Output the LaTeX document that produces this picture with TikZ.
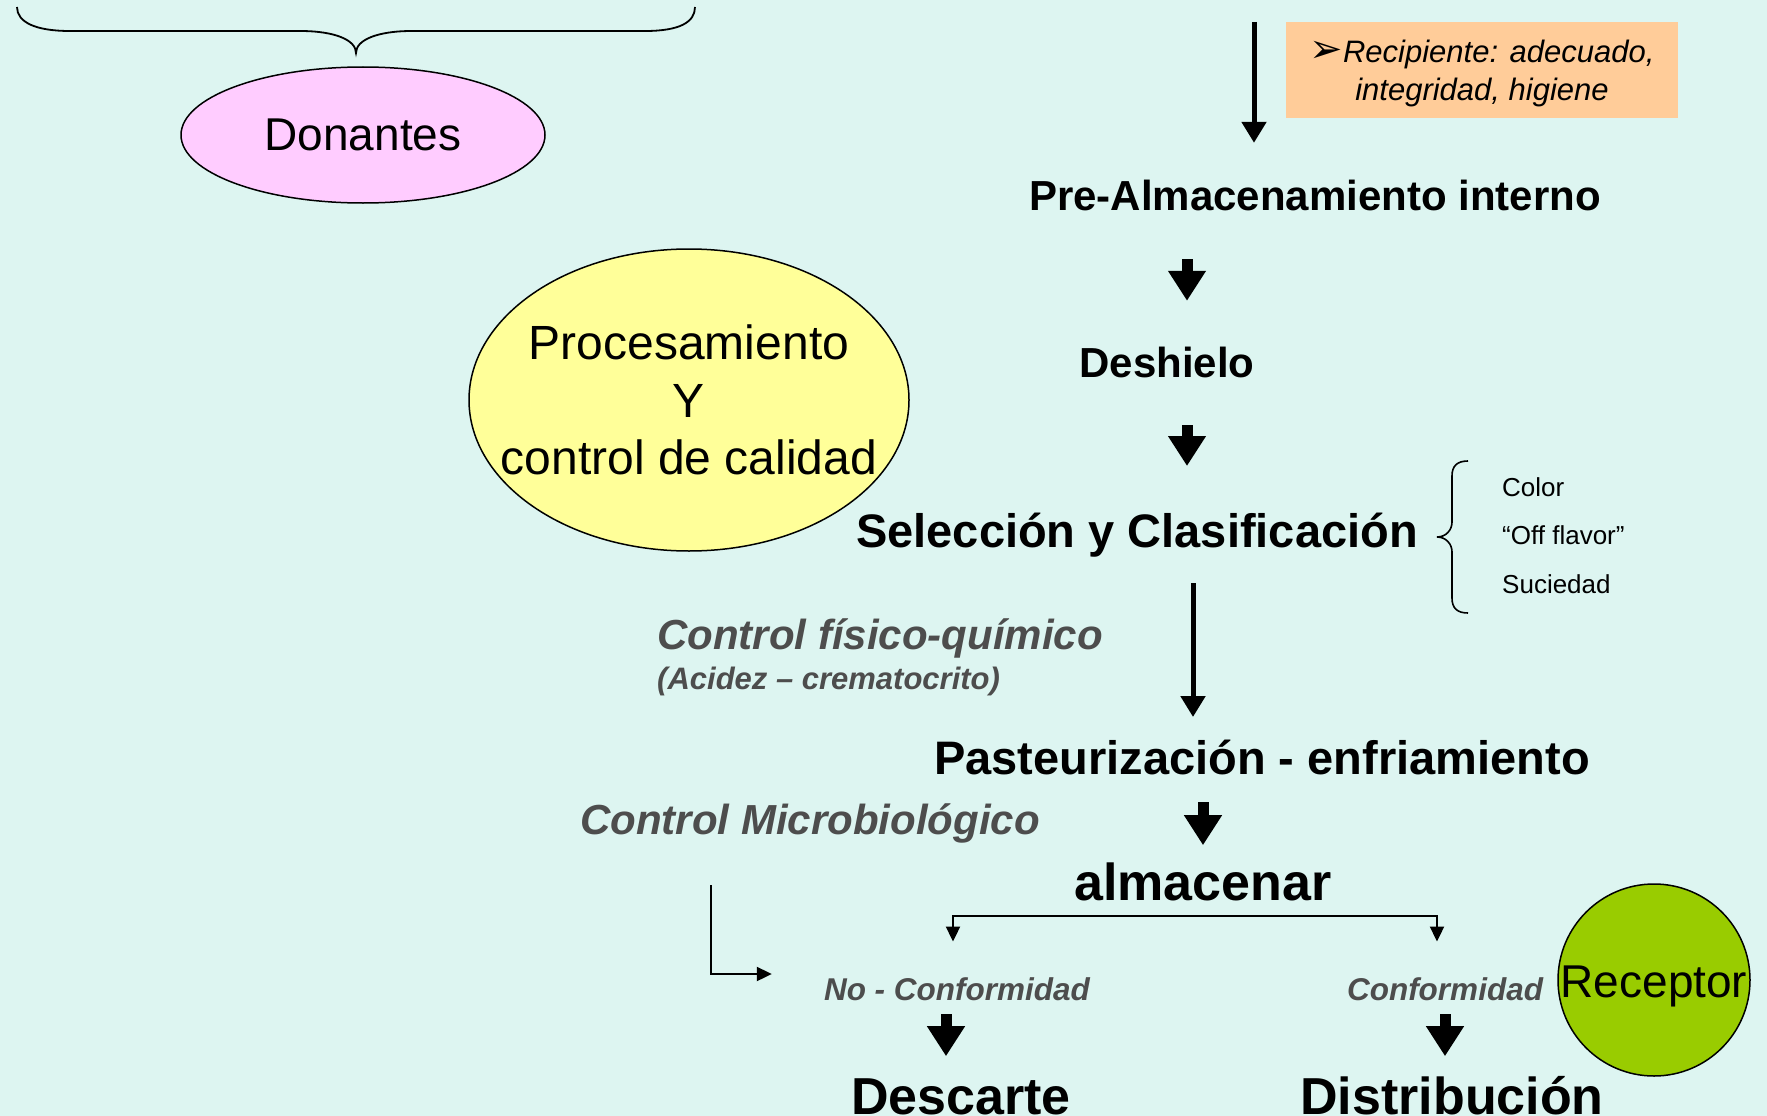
\documentclass[tikz,border=0pt]{standalone}
\usepackage{fontspec}
\setmainfont{Liberation Sans}
\newfontfamily\dingfont{DejaVu Sans}
\usetikzlibrary{arrows.meta}
\usetikzlibrary{shapes.geometric}

\definecolor{fondo}{RGB}{221,245,241}
\definecolor{rosa}{RGB}{255,204,255}
\definecolor{amarillo}{RGB}{255,255,153}
\definecolor{naranja}{RGB}{255,204,153}
\definecolor{verde}{RGB}{153,204,0}
\definecolor{gristexto}{RGB}{77,77,77}

\begin{document}
\begin{tikzpicture}[x=1pt,y=-1pt,
        stepA/.style={font=\fontsize{42}{50}\selectfont\bfseries, inner sep=0pt, text height=30pt, text depth=0pt},
        stepB/.style={font=\fontsize{47}{56}\selectfont\bfseries, inner sep=0pt, text height=33.6pt, text depth=0pt},
        stepC/.style={font=\fontsize{52}{62}\selectfont\bfseries, inner sep=0pt, text height=37.2pt, text depth=0pt},
        ctrl/.style={font=\fontsize{42}{50}\selectfont\bfseries\itshape, text=gristexto, inner sep=0pt, text height=30pt, text depth=0pt},
        nota/.style={font=\fontsize{31.5}{38}\selectfont\bfseries\itshape, text=gristexto, inner sep=0pt, text height=22.5pt, text depth=0pt},
        crit/.style={font=\fontsize{26}{31}\selectfont, inner sep=0pt, text height=18.6pt, text depth=0pt}]
    \clip (0,0) rectangle (1767,1116);
    \fill[fondo] (0,0) rectangle (1767,1116);

    \node (don) [ellipse, draw, line width=1.5pt, fill=rosa, minimum width=364, minimum height=136, inner sep=0pt,
        font=\fontsize{46}{55}\selectfont] at (363,135) {Donantes};
    \node (proc) [ellipse, draw, line width=1.5pt, fill=amarillo, minimum width=440, minimum height=302,
        label={[font=\fontsize{48}{57.5}\selectfont, align=center]center:Procesamiento\\Y\\control de calidad}] at (689,400) {};
    \node (recip) [fill=naranja, minimum width=392, minimum height=95, inner sep=0pt,
        label={[font=\fontsize{31}{38}\selectfont\itshape, align=center, yshift=-3pt]center:{\dingfont\upshape\fontsize{40}{38}\selectfont ➢}Recipiente: adecuado,\\integridad, higiene}] at (1482,70) {};
    \node (rec) [circle, draw, line width=1.5pt, fill=verde, minimum size=192, inner sep=0pt,
        label={[font=\fontsize{46}{55}\selectfont, yshift=-6pt]center:Receptor}] at (1654,980) {};

    \node (pre) [stepA] at (1315,195) {Pre-Almacenamiento interno};
    \node (desh) [stepA] at (1167,362) {Deshielo};
    \node (sel) [stepB] at (1137,531) {Selección y Clasificación};
    \node (past) [stepB] at (1262,758) {Pasteurización - enfriamiento};
    \node (alm) [stepC] at (1203,882) {almacenar};
    \node (nocon) [nota] at (957,989) {No - Conformidad};
    \node (con) [nota] at (1445,989) {Conformidad};
    \node (desc) [stepC] at (961,1096) {Descarte};
    \node (dist) [stepC] at (1452,1096) {Distribución};

    \node (fq) [ctrl, anchor=west] at (657,634) {Control físico-químico};
    \node (acid) [nota, font=\fontsize{31}{38}\selectfont\bfseries\itshape, anchor=west] at (657,678) {(Acidez – crematocrito)};
    \node (micro) [ctrl, anchor=west] at (580,819) {Control Microbiológico};

    \node (color) [crit, anchor=west] at (1502,487) {Color};
    \node (flavor) [crit, anchor=west] at (1502,535) {“Off flavor”};
    \node (suc) [crit, anchor=west] at (1502,584) {Suciedad};

    \draw[line width=1.8pt] (17,7) .. controls (17,22) and (35,31) .. (70,31) -- (300,31)
        .. controls (335,31) and (356,40) .. (356,53) .. controls (356,40) and (377,31) .. (412,31)
        -- (645,31) .. controls (680,31) and (695,22) .. (695,7);
    \draw[line width=1.6pt] (1468,461) .. controls (1457,461) and (1452,466) .. (1452,476) -- (1452,522)
        .. controls (1452,530) and (1446,537) .. (1437,537) .. controls (1446,537) and (1452,544) .. (1452,552)
        -- (1452,598) .. controls (1452,608) and (1457,613) .. (1468,613);

    \coordinate (entrada) at (1254,22);
    \coordinate (split) at (1203,916);

    \begin{scope}[gruesa/.style={line width=5pt, -{Triangle[width=24pt,length=21pt]}},
            gorda/.style={line width=11pt, -{Triangle[width=36pt,length=30pt]}},
            fina/.style={line width=2pt, -{Triangle[width=14pt,length=15pt]}}]
        \draw[gruesa, shorten >=37pt] (entrada) -- (entrada |- pre.north);
        \draw[gorda, shorten <=49pt, shorten >=46pt] ([xshift=20pt]desh.north |- pre.south) -- ([xshift=20pt]desh.north);
        \draw[gorda, shorten <=48pt, shorten >=48pt] ([xshift=20pt]desh.south) -- ([xshift=20pt]desh.south |- sel.north);
        \draw[gruesa, shorten <=35pt, shorten >=24pt] ([xshift=56pt]sel.south) -- ([xshift=56pt]sel.south |- past.north);
        \draw[gorda, shorten <=27pt, shorten >=18pt] (past.south -| alm.north) -- (alm.north);
        \draw[fina, shorten >=36pt] (split) -| ([xshift=-4pt]nocon.north);
        \draw[fina, shorten >=36pt] (split) -| ([xshift=-8pt]con.north);
        \draw[fina, shorten >=52pt] ([xshift=131pt,yshift=-51pt]micro.south west) |- ([yshift=15pt]nocon.west);
        \draw[gorda, shorten <=14pt, shorten >=21pt] ([xshift=-15pt]desc.north |- nocon.south) -- ([xshift=-15pt]desc.north);
        \draw[gorda, shorten <=14pt, shorten >=21pt] (con.south) -- (con.south |- dist.north);
    \end{scope}
\end{tikzpicture}
\end{document}
